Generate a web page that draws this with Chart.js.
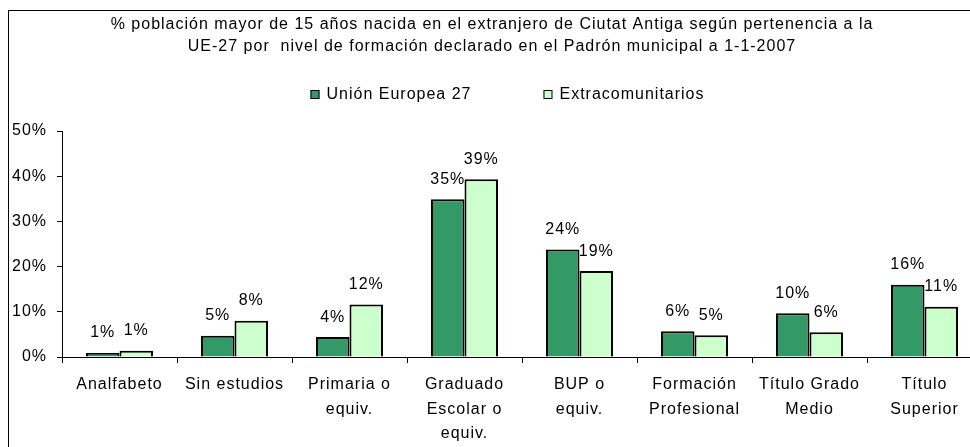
<!DOCTYPE html>
<html>
<head>
<meta charset="utf-8">
<script src="https://cdn.jsdelivr.net/npm/chart.js@4/dist/chart.umd.min.js"></script>
<style>
  html, body { margin: 0; padding: 0; background: #fff; overflow: hidden; }
  #frame {
    position: absolute; left: 8px; top: 10px;
    width: 1100px; height: 500px;
    border: 1px solid #000;
  }
  #frame canvas { display: block; }
</style>
</head>
<body>
<div id="frame"><canvas id="eduChart" width="1000" height="436"></canvas></div>
<script>
// Data
const titleLines = [
    '% población mayor de 15 años nacida en el extranjero de Ciutat Antiga según pertenencia a la',
    'UE-27 por  nivel de formación declarado en el Padrón municipal a 1-1-2007'
];
const categories = [
    'Analfabeto',
    'Sin estudios',
    ['Primaria o', 'equiv.'],
    ['Graduado', 'Escolar o', 'equiv.'],
    ['BUP o', 'equiv.'],
    ['Formación', 'Profesional'],
    ['Título Grado', 'Medio'],
    ['Título', 'Superior']
];
const ue27 = [0.9, 4.7, 4.4, 34.9, 23.8, 5.7, 9.7, 16.0];
const extracomunitarios = [1.4, 8.0, 11.6, 39.3, 19.0, 4.8, 5.5, 11.1];
const yTicks = [0, 10, 20, 30, 40, 50];

const FONT = 'Arial, "Liberation Sans", sans-serif';

// Excel draws its text slightly spread out
function spread(chart) {
    chart.ctx.letterSpacing = '1px';
}

// Title and legend, placed like the original spreadsheet chart
const headerPlugin = {
    id: 'header',
    beforeLayout: spread,
    beforeDraw: spread,
    afterDraw(chart) {
        const ctx = chart.ctx;
        ctx.save();
        ctx.fillStyle = '#000';
        ctx.font = '16px ' + FONT;
        ctx.textAlign = 'center';
        ctx.textBaseline = 'middle';
        ctx.fillText(titleLines[0], 483, 14);
        ctx.fillText(titleLines[1], 483, 36);

        // legend
        const box = 9, gap = 7, between = 72;
        const items = chart.data.datasets.map(ds => ({
            label: ds.label,
            color: ds.backgroundColor,
            w: ctx.measureText(ds.label).width
        }));
        let total = 0;
        items.forEach((it, i) => {
            total += box + gap + it.w + (i > 0 ? between : 0);
        });
        let x = 498.5 - total / 2;
        const y = 83.5;
        ctx.textAlign = 'left';
        items.forEach(it => {
            ctx.fillStyle = it.color;
            ctx.fillRect(x, y - box / 2, box, box);
            ctx.strokeStyle = '#000';
            ctx.lineWidth = 1;
            ctx.strokeRect(x + 0.5, y - box / 2 + 0.5, box - 1, box - 1);
            ctx.fillStyle = '#000';
            ctx.fillText(it.label, x + box + gap, y);
            x += box + gap + it.w + between;
        });
        ctx.restore();
    }
};

// Percentage labels above each bar
const valueLabels = {
    id: 'valueLabels',
    afterDatasetsDraw(chart) {
        const ctx = chart.ctx;
        ctx.save();
        ctx.font = '16px ' + FONT;
        ctx.fillStyle = '#000';
        ctx.textAlign = 'center';
        ctx.textBaseline = 'middle';
        chart.data.datasets.forEach((ds, di) => {
            chart.getDatasetMeta(di).data.forEach((bar, i) => {
                ctx.fillText(Math.round(ds.data[i]) + '%', bar.x, bar.y - 20);
            });
        });
        ctx.restore();
    }
};

const ctx = document.getElementById('eduChart').getContext('2d');

new Chart(ctx, {
    type: 'bar',
    data: {
        labels: categories,
        datasets: [
            {
                label: 'Unión Europea 27',
                data: ue27,
                backgroundColor: '#339966',
                borderColor: '#000',
                borderWidth: 2
            },
            {
                label: 'Extracomunitarios',
                data: extracomunitarios,
                backgroundColor: '#CCFFCC',
                borderColor: '#000',
                borderWidth: 2
            }
        ]
    },
    options: {
        responsive: false,
        animation: false,
        events: [],
        datasets: {
            bar: { categoryPercentage: 0.583, barPercentage: 1.0 }
        },
        layout: {
            padding: { top: 120, right: 27, bottom: 0, left: 0 }
        },
        plugins: {
            legend: { display: false },
            title: { display: false },
            tooltip: { enabled: false }
        },
        scales: {
            x: {
                grid: {
                    offset: true,
                    drawOnChartArea: false,
                    color: '#000',
                    tickLength: 6
                },
                border: { color: '#000', width: 1 },
                ticks: {
                    color: '#000',
                    font: { family: FONT, size: 16, lineHeight: 1.55 },
                    padding: 9,
                    maxRotation: 0,
                    autoSkip: false
                },
                afterFit(scale) { scale.height = 90; }
            },
            y: {
                min: 0,
                max: 50,
                afterBuildTicks(scale) {
                    scale.ticks = yTicks.map(v => ({ value: v }));
                },
                grid: {
                    drawOnChartArea: false,
                    color: '#000',
                    tickLength: 5
                },
                border: { color: '#000', width: 1 },
                ticks: {
                    color: '#000',
                    font: { family: FONT, size: 16 },
                    padding: 10,
                    callback: v => v + '%'
                },
                afterFit(scale) { scale.width = 53; }
            }
        }
    },
    plugins: [headerPlugin, valueLabels]
});
</script>
</body>
</html>
